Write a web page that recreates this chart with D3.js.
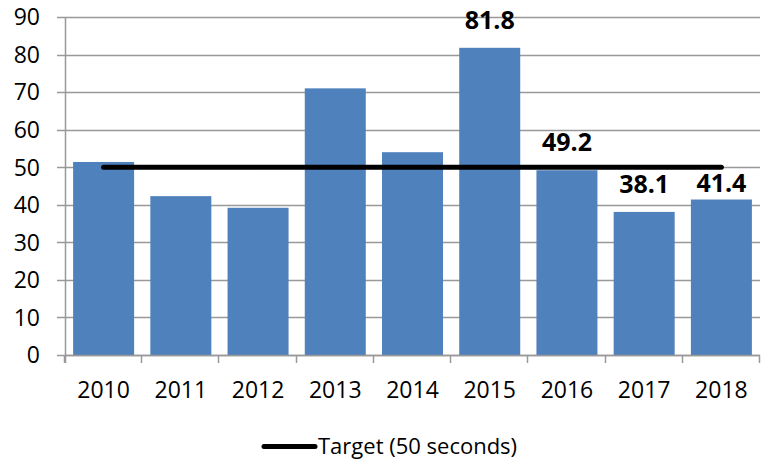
<!DOCTYPE html>
<html>
<head>
<meta charset="utf-8">
<script src="https://cdn.jsdelivr.net/npm/d3@7"></script>
<style>
  body { margin: 0; background: #fff; }
  svg { display: block; font-family: "Open Sans", sans-serif; }
</style>
</head>
<body>
<div id="viz"></div>
<script>
// Chart data
const years = ['2010', '2011', '2012', '2013', '2014', '2015', '2016', '2017', '2018'];
const times = [51.4, 42.3, 39.2, 71.0, 54.0, 81.8, 49.2, 38.1, 41.4];
const targetValue = 50;
const labelledYears = ['2015', '2016', '2017', '2018'];
const yTicks = [0, 10, 20, 30, 40, 50, 60, 70, 80, 90];
const legendText = 'Target (50 seconds)';

const width = 761, height = 459;
const plot = { left: 65, right: 760, top: 17, bottom: 355 };

const svg = d3.select('#viz')
    .append('svg')
    .attr('width', width)
    .attr('height', height);

const xScale = d3.scaleBand()
    .domain(years)
    .range([plot.left, plot.right])
    .paddingInner(0.21)
    .paddingOuter(0.105);

const yScale = d3.scaleLinear()
    .domain([0, 90])
    .range([plot.bottom, plot.top]);

const gridColor = '#999';

// Gridlines (they also stick out left as ticks)
svg.append('g')
    .selectAll('line')
    .data(yTicks)
    .enter()
    .append('line')
    .attr('x1', plot.left - 8)
    .attr('x2', plot.right)
    .attr('y1', d => Math.round(yScale(d)) + 0.5)
    .attr('y2', d => Math.round(yScale(d)) + 0.5)
    .attr('stroke', gridColor)
    .attr('stroke-width', 1.5);

// Y tick labels
svg.append('g')
    .selectAll('text')
    .data(yTicks)
    .enter()
    .append('text')
    .attr('x', 40)
    .attr('y', d => yScale(d))
    .attr('dy', '0.36em')
    .attr('text-anchor', 'end')
    .style('font-size', '23px')
    .attr('fill', '#000')
    .text(d => d);

// Bars
svg.append('g')
    .selectAll('rect')
    .data(years)
    .enter()
    .append('rect')
    .attr('x', d => xScale(d))
    .attr('y', (d, i) => yScale(times[i]))
    .attr('width', xScale.bandwidth())
    .attr('height', (d, i) => yScale(0) - yScale(times[i]))
    .attr('fill', '#4f81bd');

// Axes lines
svg.append('line')
    .attr('x1', plot.left + 0.5).attr('x2', plot.left + 0.5)
    .attr('y1', plot.top).attr('y2', plot.bottom + 8)
    .attr('stroke', gridColor).attr('stroke-width', 1.5);

svg.append('line')
    .attr('x1', plot.left).attr('x2', plot.right)
    .attr('y1', plot.bottom + 0.5).attr('y2', plot.bottom + 0.5)
    .attr('stroke', gridColor).attr('stroke-width', 1.5);

// X ticks at category boundaries
const step = xScale.step();
const boundaries = d3.range(years.length + 1).map(i => plot.left + i * step);
svg.append('g')
    .selectAll('line')
    .data(boundaries)
    .enter()
    .append('line')
    .attr('x1', d => Math.round(d) - 0.5)
    .attr('x2', d => Math.round(d) - 0.5)
    .attr('y1', plot.bottom)
    .attr('y2', plot.bottom + 8)
    .attr('stroke', gridColor)
    .attr('stroke-width', 1.5);

// X labels
svg.append('g')
    .selectAll('text')
    .data(years)
    .enter()
    .append('text')
    .attr('x', d => xScale(d) + xScale.bandwidth() / 2)
    .attr('y', 398)
    .attr('text-anchor', 'middle')
    .style('font-size', '23px')
    .attr('fill', '#000')
    .text(d => d);

// Target line through category centres
const line = d3.line()
    .x(d => xScale(d) + xScale.bandwidth() / 2)
    .y(() => yScale(targetValue));

svg.append('path')
    .datum(years)
    .attr('d', line)
    .attr('fill', 'none')
    .attr('stroke', '#000')
    .attr('stroke-width', 5)
    .attr('stroke-linecap', 'round');

// Value labels
const labelLift = { '2018': 8 }; // default lift is 19px
svg.append('g')
    .selectAll('text')
    .data(labelledYears)
    .enter()
    .append('text')
    .attr('x', d => xScale(d) + xScale.bandwidth() / 2)
    .attr('y', d => yScale(times[years.indexOf(d)]) - (labelLift[d] || 19))
    .attr('text-anchor', 'middle')
    .style('font-size', '25px')
    .style('font-weight', 'bold')
    .attr('fill', '#000')
    .text(d => times[years.indexOf(d)].toFixed(1));

// Legend
const legend = svg.append('g');
legend.append('line')
    .attr('x1', 264).attr('x2', 315)
    .attr('y1', 446.5).attr('y2', 446.5)
    .attr('stroke', '#000')
    .attr('stroke-width', 5)
    .attr('stroke-linecap', 'round');
legend.append('text')
    .attr('x', 318)
    .attr('y', 454)
    .style('font-size', '22px')
    .attr('fill', '#000')
    .text(legendText);
</script>
</body>
</html>
